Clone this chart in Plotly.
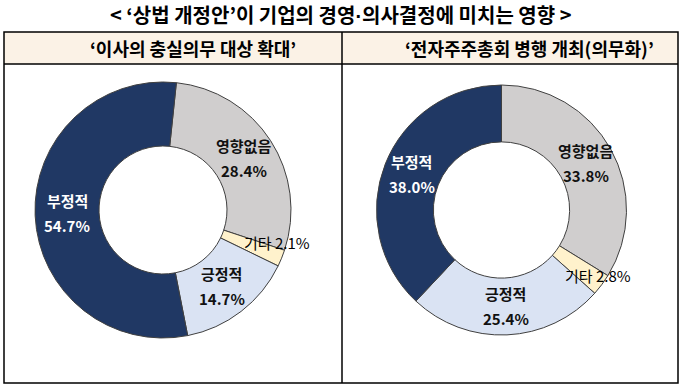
import math
import plotly.graph_objects as go

W, H = 685, 389

title_text = "< ‘상법 개정안’이 기업의 경영<span style='font-family:Liberation Sans'>·</span>의사결정에 미치는 영향 >"
panel_titles = ["‘이사의 충실의무 대상 확대’", "‘전자주주총회 병행 개최(의무화)’"]

categories = ["영향없음", "기타", "긍정적", "부정적"]
values_left = [28.4, 2.1, 14.7, 54.7]
values_right = [33.8, 2.8, 25.4, 38.0]

colors = ["#D0CECE", "#FFF2CC", "#DAE3F3", "#203864"]
label_colors = ["#111111", "#111111", "#111111", "#FFFFFF"]

FONT = "Noto Sans CJK KR"


def px(x):
    return x / W


def py(y):
    return 1 - y / H


# pie geometry (pixels): center x, center y, outer radius, hole fraction, rotation
panels = [
    dict(values=values_left, cx=163, cy=210, r=128, hole=0.50, rot=6,
         angle_override={"부정적": 268, "기타": 106}),
    dict(values=values_right, cx=501.5, cy=210, r=125, hole=0.545, rot=0,
         angle_override={"기타": 124}),
]

fig = go.Figure()
annotations = []


def ann(x, y, text, size, color, weight="normal"):
    return dict(x=px(x), y=py(y), xref="paper", yref="paper", showarrow=False,
                xanchor="center", yanchor="middle", text=text,
                font=dict(family=FONT, size=size, color=color, weight=weight))


for p in panels:
    fig.add_trace(go.Pie(
        labels=categories, values=p["values"], hole=p["hole"], sort=False,
        direction="clockwise", rotation=p["rot"],
        marker=dict(colors=colors, line=dict(color="#404040", width=1)),
        textinfo="none", hoverinfo="label+percent", showlegend=False,
        domain=dict(x=[px(p["cx"] - p["r"]), px(p["cx"] + p["r"])],
                    y=[py(p["cy"] + p["r"]), py(p["cy"] - p["r"])]),
    ))
    total = sum(p["values"])
    cum = 0.0
    for cat, v, lc in zip(categories, p["values"], label_colors):
        mid = p["rot"] + (cum + v / 2) / total * 360
        cum += v
        ang = p["angle_override"].get(cat, mid)
        if cat == "기타":
            rr = p["r"] * 0.93
        else:
            rr = p["r"] * (1 + p["hole"]) / 2
        x = p["cx"] + rr * math.sin(math.radians(ang))
        y = p["cy"] - rr * math.cos(math.radians(ang))
        if cat == "기타":
            annotations.append(ann(x, y, f"{cat} {v:.1f}%", 15, "#000000"))
        else:
            annotations.append(ann(x, y - 12.5, cat, 15, lc, "bold"))
            annotations.append(ann(x, y + 12.5, f"{v:.1f}%", 15, lc, "bold"))

# title and panel headers
annotations.append(ann(340.5, 14, title_text, 20, "#000000", "bold"))
for t, cx in zip(panel_titles, [193, 529]):
    annotations.append(ann(cx, 48, t, 18, "#000000", "bold"))

shapes = [
    # header band
    dict(type="rect", xref="paper", yref="paper", x0=px(4), x1=px(678), y0=py(32), y1=py(64),
         fillcolor="#FBF2E6", line=dict(width=0), layer="below"),
    # outer box
    dict(type="rect", xref="paper", yref="paper", x0=px(4), x1=px(678), y0=py(32), y1=py(383),
         line=dict(color="#000000", width=1.5)),
    # header separator
    dict(type="line", xref="paper", yref="paper", x0=px(4), x1=px(678), y0=py(64), y1=py(64),
         line=dict(color="#000000", width=1.5)),
    # vertical divider
    dict(type="line", xref="paper", yref="paper", x0=px(342), x1=px(342), y0=py(32), y1=py(383),
         line=dict(color="#000000", width=1.5)),
]

fig.update_layout(
    width=W, height=H, margin=dict(l=0, r=0, t=0, b=0),
    paper_bgcolor="#FFFFFF", plot_bgcolor="#FFFFFF",
    annotations=annotations, shapes=shapes,
    font=dict(family=FONT),
)

fig.write_html("out.html", config={"displayModeBar": False},
               post_script="document.body.style.margin='0';document.body.style.overflow='hidden';")
